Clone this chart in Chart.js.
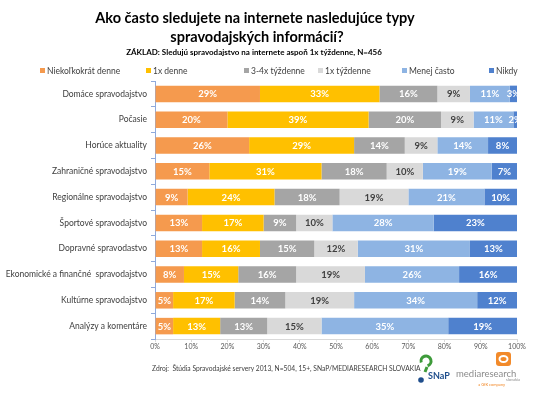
<!DOCTYPE html>
<html>
<head>
<meta charset="utf-8">
<script src="https://cdn.jsdelivr.net/npm/chart.js@4/dist/chart.umd.min.js"></script>
<style>
  html, body { margin: 0; padding: 0; background: #fff; }
  #wrap { width: 548px; height: 399px; }
</style>
</head>
<body>
<div id="wrap"><canvas id="myChart" width="548" height="399"></canvas></div>
<script>
const categories = [
  'Domáce spravodajstvo',
  'Počasie',
  'Horúce aktuality',
  'Zahraničné spravodajstvo',
  'Regionálne spravodajstvo',
  'Športové spravodajstvo',
  'Dopravné spravodastvo',
  'Ekonomické a finančné  spravodajstvo',
  'Kultúrne spravodajstvo',
  'Analýzy a komentáre',
];

const seriesNames = ['Niekoľkokrát denne', '1x denne', '3-4x týždenne', '1x týždenne', 'Menej často', 'Nikdy'];

const niekolkokratDenne = [29, 20, 26, 15, 9, 13, 13, 8, 5, 5];
const razDenne = [33, 39, 29, 31, 24, 17, 16, 15, 17, 13];
const tridoStyriTyzdenne = [16, 20, 14, 18, 18, 9, 15, 16, 14, 13];
const razTyzdenne = [9, 9, 9, 10, 19, 10, 12, 19, 19, 15];
const menejCasto = [11, 11, 14, 19, 21, 28, 31, 26, 34, 35];
const nikdy = [3, 2, 8, 7, 10, 23, 13, 16, 12, 19];

const xTicks = [0, 10, 20, 30, 40, 50, 60, 70, 80, 90, 100];

const colors = ['#F59A4E', '#FFC000', '#A5A5A5', '#D9D9D9', '#8EB4E3', '#4F81CE'];
const labelColors = ['#fff', '#fff', '#fff', '#404040', '#fff', '#fff'];
const FONT = 'Lato, "Open Sans", sans-serif';

const values = [niekolkokratDenne, razDenne, tridoStyriTyzdenne, razTyzdenne, menejCasto, nikdy];

// values written in the middle of each segment
const barLabels = {
  id: 'barLabels',
  afterDatasetsDraw(chart) {
    const { ctx, chartArea } = chart;
    ctx.save();
    ctx.font = 'bold 9.5px ' + FONT;
    ctx.textAlign = 'center';
    ctx.textBaseline = 'middle';
    chart.data.datasets.forEach((ds, di) => {
      const meta = chart.getDatasetMeta(di);
      ctx.fillStyle = labelColors[di];
      meta.data.forEach((el, i) => {
        const p = el.getProps(['x', 'base', 'y'], true);
        const left = Math.min(p.x, p.base);
        const right = Math.min(Math.max(p.x, p.base), chartArea.right);
        ctx.fillText(ds.data[i] + '%', (left + right) / 2, p.y + 0.5);
      });
    });
    ctx.restore();
  },
};

// title, legend, source line and logos
const decorations = {
  id: 'decorations',
  afterDraw(chart) {
    const { ctx } = chart;
    ctx.save();
    ctx.fillStyle = '#000';
    ctx.textAlign = 'center';
    ctx.textBaseline = 'middle';
    ctx.font = 'bold 14.5px ' + FONT;
    ctx.fillText('Ako často sledujete na internete nasledujúce typy', 255, 18);
    ctx.fillText('spravodajských informácií?', 257, 37);
    ctx.font = 'bold 8px ' + FONT;
    ctx.fillText('ZÁKLAD: Sledujú spravodajstvo na internete aspoň 1x týždenne, N=456', 254, 52);

    const legendX = [40, 146, 244, 318, 402, 489];
    ctx.textAlign = 'left';
    ctx.font = '8.5px ' + FONT;
    seriesNames.forEach((name, i) => {
      ctx.fillStyle = colors[i];
      ctx.fillRect(legendX[i], 68, 5, 5);
      ctx.fillStyle = '#404040';
      ctx.fillText(name, legendX[i] + 7, 71);
    });

    ctx.font = '6.7px ' + FONT;
    ctx.fillStyle = '#404040';
    ctx.fillText('Zdroj:  Štúdia Spravodajské servery 2013, N=504, 15+, SNaP/MEDIARESEARCH SLOVAKIA', 152, 369);

    // SNaP logo
    ctx.strokeStyle = '#3E9B3A';
    ctx.lineWidth = 3;
    ctx.beginPath();
    ctx.arc(426, 361, 5, Math.PI * 0.9, Math.PI * 2.4);
    ctx.stroke();
    ctx.beginPath();
    ctx.moveTo(427, 367);
    ctx.lineTo(425, 372);
    ctx.stroke();
    ctx.fillStyle = '#1F4E8C';
    ctx.beginPath();
    ctx.arc(421, 380, 2.8, 0, Math.PI * 2);
    ctx.fill();
    ctx.font = 'bold 9px ' + FONT;
    ctx.fillText('SNaP', 428, 376);

    // mediaresearch logo
    ctx.fillStyle = '#F28A2A';
    ctx.beginPath();
    ctx.roundRect(496, 352, 15, 14, 3);
    ctx.fill();
    ctx.strokeStyle = '#fff';
    ctx.lineWidth = 2;
    ctx.beginPath();
    ctx.ellipse(503.5, 359, 4, 3, 0, 0, Math.PI * 2);
    ctx.stroke();
    ctx.font = '9.5px ' + FONT;
    ctx.fillStyle = '#8C8C8C';
    ctx.fillText('mediaresearch', 456, 374);
    ctx.font = '4px ' + FONT;
    ctx.textAlign = 'right';
    ctx.fillText('slovakia', 520, 380);
    ctx.fillStyle = '#F28A2A';
    ctx.fillText('a GfK company', 505, 385);
    ctx.restore();
  },
};

new Chart(document.querySelector('#myChart'), {
  type: 'bar',
  data: {
    labels: categories,
    datasets: seriesNames.map((name, i) => ({
      label: name,
      data: values[i],
      backgroundColor: colors[i],
      categoryPercentage: 0.64,
      barPercentage: 1,
    })),
  },
  options: {
    indexAxis: 'y',
    responsive: false,
    animation: false,
    devicePixelRatio: 1,
    layout: { padding: { top: 81, right: 31, bottom: 0, left: 0 } },
    plugins: {
      legend: { display: false },
      title: { display: false },
      tooltip: { enabled: false },
    },
    scales: {
      x: {
        stacked: true,
        min: 0,
        max: 100,
        afterBuildTicks(scale) {
          scale.ticks = xTicks.map((v) => ({ value: v }));
        },
        afterFit(scale) {
          scale.height = 60;
        },
        ticks: {
          callback: (v) => v + '%',
          color: '#595959',
          font: { family: FONT, size: 7 },
          padding: 1,
          maxRotation: 0,
        },
        grid: { drawOnChartArea: false, tickLength: 3, color: '#D9D9D9' },
        border: { color: '#D9D9D9' },
      },
      y: {
        stacked: true,
        afterFit(scale) {
          scale.width = 155;
        },
        ticks: {
          color: '#404040',
          font: { family: FONT, size: 8.5 },
          padding: 4,
        },
        grid: { drawOnChartArea: false, tickLength: 4, color: '#8FAADC' },
        border: { color: '#8FAADC' },
      },
    },
  },
  plugins: [barLabels, decorations],
});
</script>
</body>
</html>
